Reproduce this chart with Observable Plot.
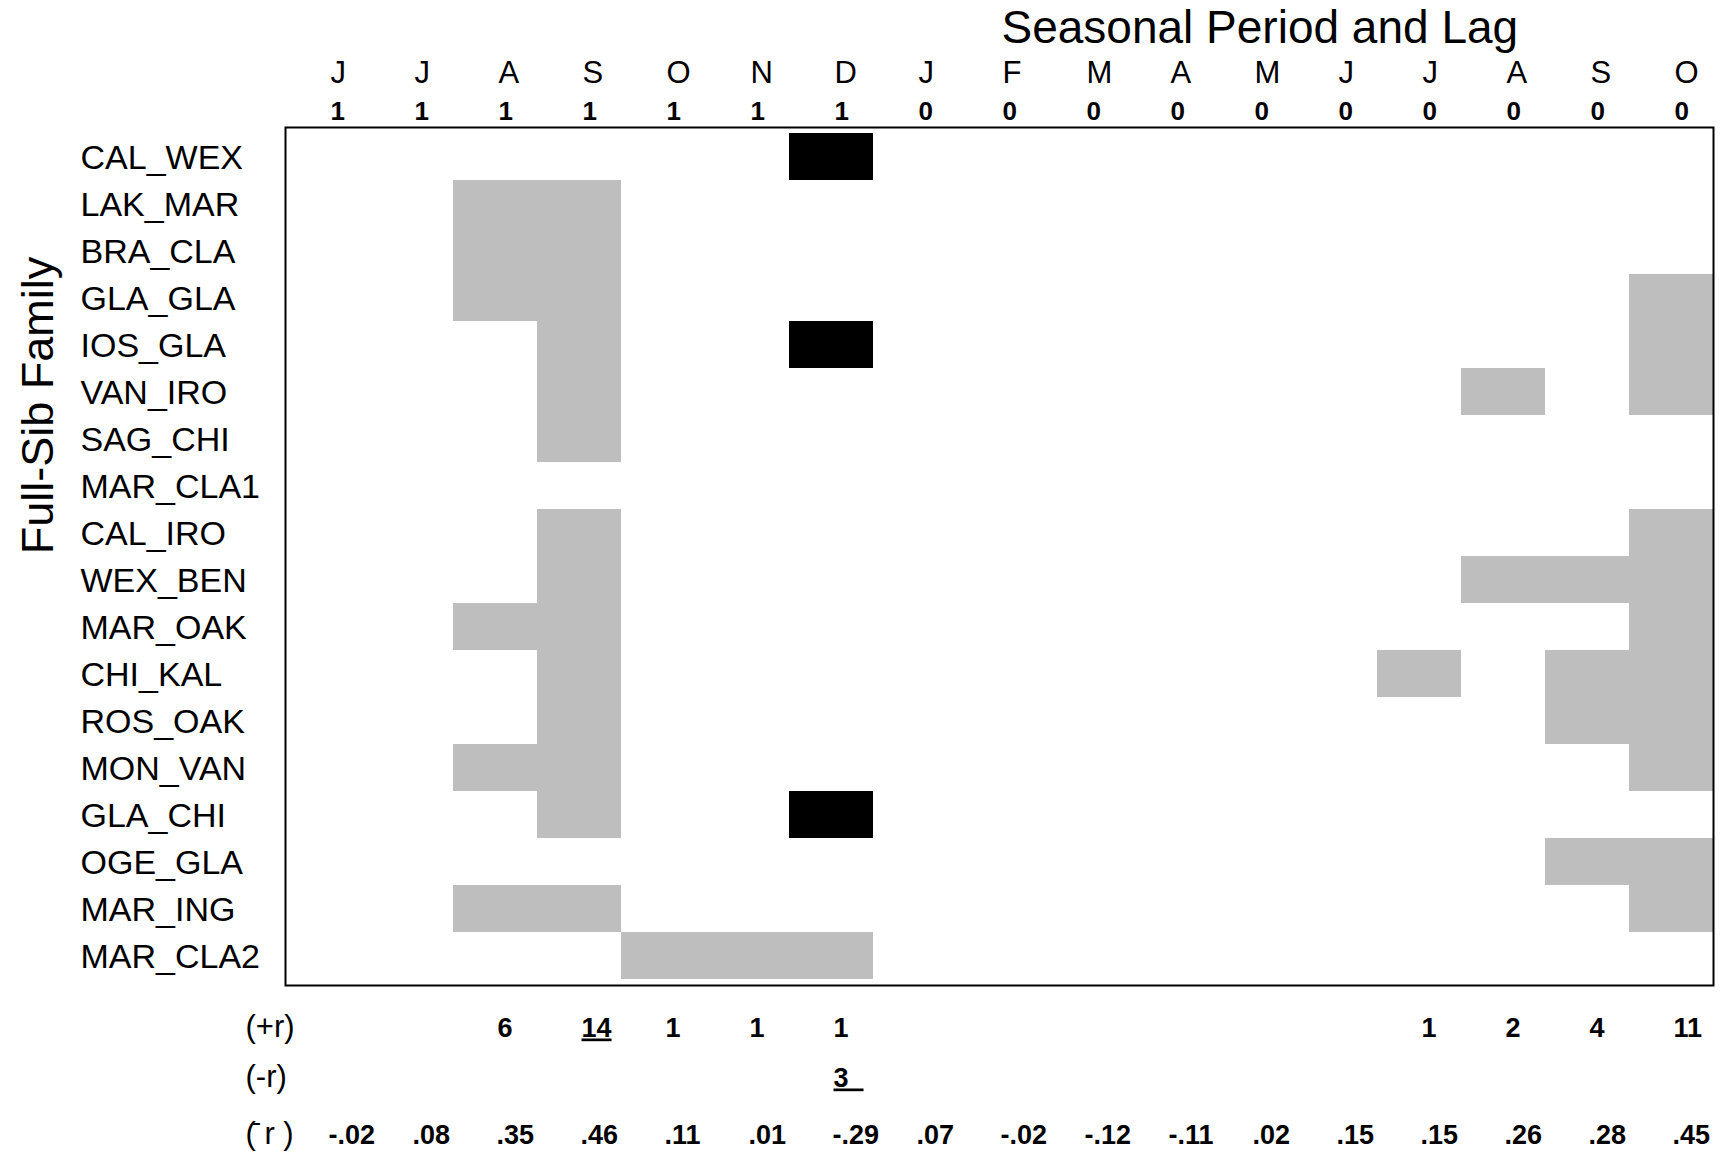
<!DOCTYPE html>
<html>
<head>
<meta charset="utf-8">
<script src="https://cdn.jsdelivr.net/npm/d3@7"></script>
<script src="https://cdn.jsdelivr.net/npm/@observablehq/plot@0.6"></script>
<style>
  html, body { margin: 0; padding: 0; background: #fff; }
  svg { display: block; }
</style>
</head>
<body>
<div id="chart"></div>
<script>
// Column headers: seasonal period (month) and lag
const months = ["J","J","A","S","O","N","D","J","F","M","A","M","J","J","A","S","O"];
const lags = [1,1,1,1,1,1,1,0,0,0,0,0,0,0,0,0,0];

// Full-sib families (rows)
const families = ["CAL_WEX","LAK_MAR","BRA_CLA","GLA_GLA","IOS_GLA","VAN_IRO","SAG_CHI","MAR_CLA1","CAL_IRO",
  "WEX_BEN","MAR_OAK","CHI_KAL","ROS_OAK","MON_VAN","GLA_CHI","OGE_GLA","MAR_ING","MAR_CLA2"];

// Significant correlations: 1 = positive (+r, grey), -1 = negative (-r, black), 0 = none
const CAL_WEX  = [0,0,0,0,0,0,-1,0,0,0,0,0,0,0,0,0,0];
const LAK_MAR  = [0,0,1,1,0,0,0,0,0,0,0,0,0,0,0,0,0];
const BRA_CLA  = [0,0,1,1,0,0,0,0,0,0,0,0,0,0,0,0,0];
const GLA_GLA  = [0,0,1,1,0,0,0,0,0,0,0,0,0,0,0,0,1];
const IOS_GLA  = [0,0,0,1,0,0,-1,0,0,0,0,0,0,0,0,0,1];
const VAN_IRO  = [0,0,0,1,0,0,0,0,0,0,0,0,0,0,1,0,1];
const SAG_CHI  = [0,0,0,1,0,0,0,0,0,0,0,0,0,0,0,0,0];
const MAR_CLA1 = [0,0,0,0,0,0,0,0,0,0,0,0,0,0,0,0,0];
const CAL_IRO  = [0,0,0,1,0,0,0,0,0,0,0,0,0,0,0,0,1];
const WEX_BEN  = [0,0,0,1,0,0,0,0,0,0,0,0,0,0,1,1,1];
const MAR_OAK  = [0,0,1,1,0,0,0,0,0,0,0,0,0,0,0,0,1];
const CHI_KAL  = [0,0,0,1,0,0,0,0,0,0,0,0,0,1,0,1,1];
const ROS_OAK  = [0,0,0,1,0,0,0,0,0,0,0,0,0,0,0,1,1];
const MON_VAN  = [0,0,1,1,0,0,0,0,0,0,0,0,0,0,0,0,1];
const GLA_CHI  = [0,0,0,1,0,0,-1,0,0,0,0,0,0,0,0,0,0];
const OGE_GLA  = [0,0,0,0,0,0,0,0,0,0,0,0,0,0,0,1,1];
const MAR_ING  = [0,0,1,1,0,0,0,0,0,0,0,0,0,0,0,0,1];
const MAR_CLA2 = [0,0,0,0,1,1,1,0,0,0,0,0,0,0,0,0,0];

// Summary rows
const posCount = ["","","6","14","1","1","1","","","","","","","1","2","4","11"];
const negCount = ["","","","","","","3\u00a0\u00a0","","","","","","","","","",""];
const meanR = ["-.02",".08",".35",".46",".11",".01","-.29",".07","-.02","-.12","-.11",".02",".15",".15",".26",".28",".45"];
const underlined = ["14","3\u00a0\u00a0"];
const rowLabels = ["(+r)","(-r)","(\u0304 r )"];

const matrix = [CAL_WEX,LAK_MAR,BRA_CLA,GLA_GLA,IOS_GLA,VAN_IRO,SAG_CHI,MAR_CLA1,CAL_IRO,
  WEX_BEN,MAR_OAK,CHI_KAL,ROS_OAK,MON_VAN,GLA_CHI,OGE_GLA,MAR_ING,MAR_CLA2];

const cells = [];
matrix.forEach((row, r) => row.forEach((v, c) => {
  if (v !== 0) cells.push({fam: families[r], col: c, sign: v > 0 ? "pos" : "neg"});
}));
const cols = months.map((m, i) => ({i, m, lag: String(lags[i]), pos: posCount[i], neg: negCount[i], mean: meanR[i]}));

const font = "'Liberation Sans', Arial, sans-serif";
const sumOffsets = [51, 101, 158];

const chart = Plot.plot({
  width: 1721,
  height: 1153,
  marginLeft: 285,
  marginRight: 8,
  marginTop: 127,
  marginBottom: 168,
  style: {fontFamily: font, background: "#fff", color: "#000"},
  x: {type: "band", domain: d3.range(17), padding: 0, axis: null},
  y: {type: "band", domain: families, padding: 0, axis: null},
  color: {domain: ["pos","neg"], range: ["#bebebe","#000000"]},
  marks: [
    Plot.cell(cells, {x: "col", y: "fam", fill: "sign", inset: 0, shapeRendering: "crispEdges"}),
    Plot.frame({stroke: "#000", strokeWidth: 2}),
    // row labels
    Plot.text(families, {y: d => d, text: d => d, frameAnchor: "left", textAnchor: "start", dx: -205, dy: 1,
      fontSize: 34}),
    // y title
    Plot.text(["Full-Sib Family"], {frameAnchor: "top-left", text: d => d, rotate: -90, textAnchor: "middle",
      lineAnchor: "bottom", dx: -233, dy: 278, fontSize: 45}),
    // top title
    Plot.text(["Seasonal Period and Lag"], {frameAnchor: "top-left", text: d => d, textAnchor: "start",
      lineAnchor: "bottom", dx: 716, dy: -85, fontSize: 46}),
    // month letters
    Plot.text(cols, {x: "i", text: "m", frameAnchor: "top", textAnchor: "start", lineAnchor: "bottom",
      dx: 3, dy: -45, fontSize: 31}),
    // lags
    Plot.text(cols, {x: "i", text: "lag", frameAnchor: "top", textAnchor: "start", lineAnchor: "bottom",
      dx: 3, dy: -8, fontSize: 26, fontWeight: "bold"}),
    // summary rows
    Plot.text(cols, {x: "i", text: "pos", frameAnchor: "bottom", textAnchor: "start", lineAnchor: "bottom",
      dx: 2, dy: sumOffsets[0], fontSize: 27, fontWeight: "bold"}),
    Plot.text(cols, {x: "i", text: "neg", frameAnchor: "bottom", textAnchor: "start", lineAnchor: "bottom",
      dx: 2, dy: sumOffsets[1], fontSize: 27, fontWeight: "bold"}),
    Plot.text(cols, {x: "i", text: "mean", frameAnchor: "bottom", textAnchor: "start", lineAnchor: "bottom",
      dx: 1, dy: sumOffsets[2], fontSize: 27, fontWeight: "bold"}),
    ...rowLabels.map((lab, k) => Plot.text([lab], {text: d => d, frameAnchor: "bottom-left", textAnchor: "start",
      lineAnchor: "bottom", dx: -40, dy: sumOffsets[k], fontSize: 31}))
  ]
});
document.getElementById("chart").appendChild(chart);

d3.select(chart).selectAll("text").filter(function() { return underlined.includes(this.textContent); })
  .style("text-decoration", "underline");
</script>
</body>
</html>
